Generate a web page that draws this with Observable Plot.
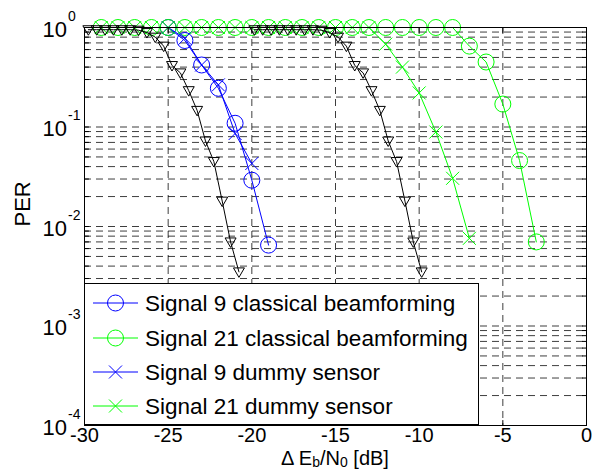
<!DOCTYPE html>
<html><head><meta charset="utf-8">
<script src="https://cdn.jsdelivr.net/npm/d3@7"></script>
<script src="https://cdn.jsdelivr.net/npm/@observablehq/plot@0.6"></script>
<style>
body{margin:0;background:#fff}
svg{font-family:"Liberation Sans",Arial,Helvetica,sans-serif}
</style>
</head><body><div id="chart"></div>
<script>
// ---- data ----
const sig9ClassX  = [-25,-24,-23,-22,-21,-20,-19];
const sig9ClassY  = [1.0,0.74,0.42,0.245,0.109,0.0292,0.0065];
const sig21ClassX = [-29,-28,-27,-26,-25,-24,-23,-22,-21,-20,-19,-18,-17,-16,-15,-14,-13,-12,-11,-10,-9,-8,-7,-6,-5,-4,-3];
const sig21ClassY = [1,1,1,1,1,1,1,1,1,1,1,1,1,1,1,1,1,1,1,1,1,1,0.65,0.45,0.17,0.046,0.007];
const sig9DummyX  = [-25,-24,-23,-22,-21,-20];
const sig9DummyY  = [1.0,0.78,0.42,0.265,0.086,0.043];
const sig21DummyX = [-29,-28,-27,-26,-25,-24,-23,-22,-21,-20,-19,-18,-17,-16,-15,-14,-13,-12,-11,-10,-9,-8,-7];
const sig21DummyY = [1,1,1,1,1,1,1,1,1,1,1,1,1,1,1,1,1,0.68,0.40,0.22,0.089,0.0305,0.0076];
const blackAX = [-29.77,-29.27,-28.77,-28.27,-27.77,-27.27,-26.77,-26.27,-25.77,-25.27,-24.77,-24.27,-23.77,-23.27,-22.77,-22.27,-21.77,-21.27,-20.77];
const blackAY = [0.95,0.95,0.95,0.95,0.95,0.95,0.94,0.89,0.8,0.65,0.415,0.35,0.232,0.147,0.0724,0.045,0.018,0.007,0.0035];
const blackBX = [-19.85,-19.35,-18.85,-18.35,-17.85,-17.35,-16.85,-16.35,-15.85,-15.35,-14.85,-14.35,-13.85,-13.35,-12.85,-12.35,-11.85,-11.35,-10.85,-10.35,-9.85];
const blackBY = [0.95,0.95,0.95,0.95,0.95,0.95,0.95,0.95,0.94,0.89,0.8,0.65,0.415,0.35,0.232,0.147,0.0724,0.045,0.018,0.007,0.0035];

const xTicks = [-30,-25,-20,-15,-10,-5,0];
const xGrid = [-25,-20,-15,-10,-5];
const yDecades = [1,0.1,0.01,0.001,0.0001];
const yExponents = ["0","-1","-2","-3","-4"];
const yMinor = [0.9,0.8,0.7,0.6,0.5,0.4,0.3,0.2,0.1,0.09,0.08,0.07,0.06,0.05,0.04,0.03,0.02,0.01,
  0.009,0.008,0.007,0.006,0.005,0.004,0.003,0.002,0.001,0.0009,0.0008,0.0007,0.0006,0.0005,0.0004,0.0003,0.0002];
const legendLabels = ["Signal 9 classical beamforming","Signal 21 classical beamforming","Signal 9 dummy sensor","Signal 21 dummy sensor"];

const BLUE = "#0000ff", GREEN = "#00ff00";
const zip = (xs, ys) => xs.map((x, i) => ({x, y: ys[i]}));
const s9c = zip(sig9ClassX, sig9ClassY), s21c = zip(sig21ClassX, sig21ClassY);
const s9d = zip(sig9DummyX, sig9DummyY), s21d = zip(sig21DummyX, sig21DummyY);
const bA = zip(blackAX, blackAY), bB = zip(blackBX, blackBY);

const timesSym = {draw(ctx, size){const r = Math.sqrt(size/Math.PI); ctx.moveTo(-r,-r); ctx.lineTo(r,r); ctx.moveTo(-r,r); ctx.lineTo(r,-r);}};
const triDown = {draw(ctx, size){const r = Math.sqrt(size/Math.PI); ctx.moveTo(-r,-0.72*r); ctx.lineTo(r,-0.72*r); ctx.lineTo(0,r); ctx.closePath();}};
const tickShape = {draw(ctx, l){ctx.moveTo(0,0); ctx.lineTo(0,-l);}};

const gridStyle = {stroke: "#000", strokeDasharray: "7,5", strokeWidth: 0.9, strokeOpacity: 0.85};
const series = (data, color, symbol, r) => [
  Plot.line(data, {x: "x", y: "y", stroke: color, strokeWidth: 1}),
  Plot.dot(data, {x: "x", y: "y", stroke: color, fill: "none", symbol, r, strokeWidth: 1})
];

const plot = Plot.plot({
  width: 597, height: 470,
  marginLeft: 84, marginRight: 11, marginTop: 27, marginBottom: 45,
  style: {fontFamily: '"Liberation Sans", Arial, sans-serif', background: "#fff"},
  x: {domain: [-30, 0], axis: null},
  y: {type: "log", domain: [1e-4, 1], axis: null},
  marks: [
    Plot.ruleY(yMinor, {y: d => d, ...gridStyle}),
    Plot.ruleX(xGrid, {x: d => d, ...gridStyle}),
    ...series(s9c, BLUE, "circle", 8),
    ...series(s21c, GREEN, "circle", 8),
    ...series(s9d, BLUE, timesSym, 6.5),
    ...series(s21d, GREEN, timesSym, 6.5),
    ...series(bA, "#000", triDown, 5.5),
    ...series(bB, "#000", triDown, 5.5),
    // inward ticks
    Plot.vector(xTicks, {x: d => d, y: () => 1e-4, length: 5, rotate: 0, anchor: "start", shape: tickShape, stroke: "#000", strokeWidth: 1}),
    Plot.vector(xTicks, {x: d => d, y: () => 1, length: 5, rotate: 180, anchor: "start", shape: tickShape, stroke: "#000", strokeWidth: 1}),
    Plot.vector(yMinor, {x: () => -30, y: d => d, length: 4, rotate: 90, anchor: "start", shape: tickShape, stroke: "#000", strokeWidth: 1}),
    Plot.vector(yMinor, {x: () => 0, y: d => d, length: 4, rotate: -90, anchor: "start", shape: tickShape, stroke: "#000", strokeWidth: 1}),
    Plot.frame({stroke: "#000", strokeWidth: 1}),
    Plot.axisX(xTicks, {anchor: "bottom", tickSize: 0, tickPadding: 2, fontSize: 20, tickFormat: d => String(d), label: null, fill: "#000"}),
    Plot.text(yDecades, {y: d => d, frameAnchor: "left", text: () => "10", textAnchor: "start", dx: -42, dy: 2, fontSize: 22, fill: "#000"}),
    Plot.text(yDecades, {y: d => d, frameAnchor: "left", text: (d, i) => yExponents[i], textAnchor: "start", dx: -16.5, dy: -11, fontSize: 14, fill: "#000"}),
    Plot.text(["PER"], {frameAnchor: "left", dx: -62, rotate: -90, text: d => d, fontSize: 22, fill: "#000"})
  ]
});

document.getElementById("chart").append(plot);
const svg = d3.select(plot);

// x label with subscripts
const xl = svg.append("text").attr("x", 335).attr("y", 465).attr("text-anchor", "middle")
  .attr("font-size", 20).attr("fill", "#000");
xl.append("tspan").text("\u0394 E");
xl.append("tspan").attr("font-size", 14).attr("dy", 2).text("b");
xl.append("tspan").attr("dy", -2).text("/N");
xl.append("tspan").attr("font-size", 14).attr("dy", 2).text("0");
xl.append("tspan").attr("dy", -2).text(" [dB]");

// legend
const lg = svg.append("g");
lg.append("rect").attr("x", 84.5).attr("y", 283.5).attr("width", 394).attr("height", 141)
  .attr("fill", "#fff").attr("stroke", "#000").attr("stroke-width", 1);
const legColors = [BLUE, GREEN, BLUE, GREEN];
const legSym = ["circle", "circle", "times", "times"];
const rowY = [303, 338, 372, 406];
legendLabels.forEach((lab, i) => {
  const y = rowY[i], c = legColors[i];
  lg.append("line").attr("x1", 93).attr("x2", 138).attr("y1", y).attr("y2", y).attr("stroke", c).attr("stroke-width", 1);
  if (legSym[i] === "circle") {
    lg.append("circle").attr("cx", 115.5).attr("cy", y).attr("r", 8).attr("fill", "none").attr("stroke", c);
  } else {
    const r = 6.5;
    lg.append("path").attr("d", `M${115.5-r},${y-r}L${115.5+r},${y+r}M${115.5-r},${y+r}L${115.5+r},${y-r}`).attr("stroke", c).attr("fill", "none");
  }
  lg.append("text").attr("x", 145).attr("y", y).attr("dy", "0.36em").attr("text-anchor", "start")
    .attr("font-size", 22.5).attr("fill", "#000").text(lab);
});
</script>
</body></html>
